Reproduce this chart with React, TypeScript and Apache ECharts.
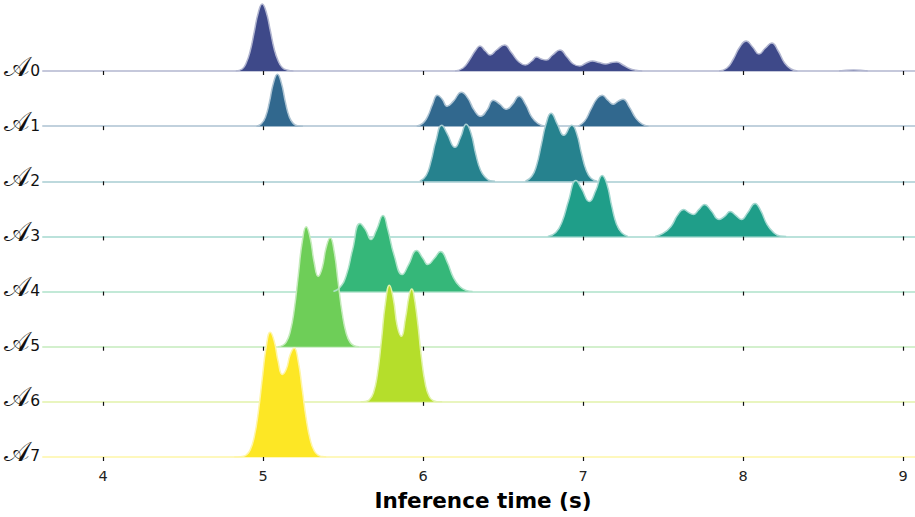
import React, { useEffect, useRef } from 'react';
import * as echarts from 'echarts';

// x range and ticks (inference time, seconds)
const X_MIN = 3.625;
const X_MAX = 9.125;
const TICKS = [4, 5, 6, 7, 8, 9];
const ROW_NAMES = ['0', '1', '2', '3', '4', '5', '6', '7'];
const COLORS = ['#3e4989', '#31688e', '#26828e', '#1f9e89', '#35b779', '#6ece58', '#b5de2b', '#fde725'];

// density estimates (relative units), one list of [time, density] per group of peaks
const A0: number[][][] = [
  [[4.83, 0], [4.87, 0.02], [4.895, 0.08], [4.92, 0.2], [4.945, 0.39], [4.97, 0.58], [4.995, 0.67], [5.02, 0.59], [5.045, 0.41], [5.07, 0.22], [5.095, 0.1], [5.12, 0.035], [5.15, 0.01], [5.19, 0]],
  [[6.2, 0], [6.25, 0.03], [6.29, 0.11], [6.33, 0.21], [6.356, 0.25], [6.39, 0.2], [6.42, 0.16], [6.46, 0.21], [6.51, 0.26], [6.55, 0.19], [6.6, 0.09], [6.64, 0.06], [6.68, 0.1], [6.71, 0.14], [6.74, 0.12], [6.77, 0.11], [6.81, 0.16], [6.856, 0.21], [6.9, 0.14], [6.94, 0.07], [6.98, 0.05], [7.02, 0.08], [7.06, 0.1], [7.1, 0.085], [7.14, 0.07], [7.18, 0.085], [7.21, 0.09], [7.25, 0.06], [7.29, 0.025], [7.33, 0.007], [7.37, 0]],
  [[7.85, 0], [7.9, 0.03], [7.94, 0.12], [7.98, 0.24], [8.02, 0.3], [8.06, 0.24], [8.1, 0.17], [8.14, 0.23], [8.18, 0.28], [8.22, 0.2], [8.26, 0.08], [8.3, 0.02], [8.34, 0]],
  [[8.6, 0], [8.69, 0.01], [8.78, 0]],
];
const A1: number[][][] = [
  [[4.96, 0], [4.99, 0.023], [5.015, 0.09], [5.04, 0.24], [5.065, 0.43], [5.09, 0.52], [5.115, 0.43], [5.14, 0.24], [5.165, 0.09], [5.19, 0.025], [5.22, 0.004], [5.25, 0]],
  [[5.96, 0], [6.0, 0.03], [6.03, 0.1], [6.06, 0.22], [6.09, 0.31], [6.12, 0.27], [6.15, 0.2], [6.19, 0.25], [6.24, 0.34], [6.28, 0.28], [6.32, 0.16], [6.36, 0.1], [6.4, 0.16], [6.44, 0.26], [6.48, 0.22], [6.52, 0.17], [6.56, 0.22], [6.6, 0.3], [6.64, 0.22], [6.68, 0.09], [6.72, 0.025], [6.76, 0]],
  [[6.97, 0], [7.01, 0.05], [7.05, 0.17], [7.09, 0.28], [7.12, 0.31], [7.155, 0.26], [7.19, 0.22], [7.22, 0.25], [7.25, 0.27], [7.29, 0.19], [7.33, 0.08], [7.37, 0.02], [7.41, 0]],
];
const A2: number[][][] = [
  [[5.98, 0], [6.02, 0.06], [6.05, 0.2], [6.08, 0.4], [6.117, 0.56], [6.15, 0.48], [6.2, 0.34], [6.235, 0.44], [6.27, 0.57], [6.3, 0.48], [6.33, 0.27], [6.36, 0.11], [6.39, 0.04], [6.42, 0.005], [6.45, 0]],
  [[6.64, 0], [6.68, 0.05], [6.71, 0.16], [6.74, 0.37], [6.77, 0.58], [6.8, 0.68], [6.84, 0.57], [6.88, 0.46], [6.93, 0.56], [6.96, 0.48], [6.99, 0.28], [7.02, 0.11], [7.05, 0.03], [7.09, 0]],
];
const A3: number[][][] = [
  [[6.78, 0], [6.83, 0.04], [6.87, 0.15], [6.91, 0.36], [6.956, 0.56], [6.99, 0.48], [7.04, 0.35], [7.08, 0.46], [7.12, 0.61], [7.15, 0.52], [7.18, 0.3], [7.21, 0.12], [7.24, 0.04], [7.28, 0]],
  [[7.45, 0], [7.5, 0.03], [7.55, 0.1], [7.59, 0.21], [7.63, 0.27], [7.66, 0.24], [7.69, 0.22], [7.725, 0.27], [7.76, 0.32], [7.8, 0.26], [7.85, 0.17], [7.885, 0.2], [7.92, 0.25], [7.955, 0.21], [7.99, 0.17], [8.03, 0.24], [8.075, 0.33], [8.11, 0.26], [8.15, 0.12], [8.19, 0.04], [8.23, 0.005], [8.27, 0]],
];
const A4: number[][][] = [
  [[5.44, 0], [5.48, 0.04], [5.52, 0.16], [5.56, 0.42], [5.606, 0.68], [5.64, 0.62], [5.675, 0.52], [5.71, 0.62], [5.75, 0.76], [5.78, 0.62], [5.82, 0.36], [5.87, 0.17], [5.91, 0.27], [5.96, 0.41], [6.0, 0.33], [6.03, 0.27], [6.07, 0.33], [6.11, 0.4], [6.15, 0.3], [6.19, 0.14], [6.23, 0.05], [6.27, 0.01], [6.31, 0]],
];
const A5: number[][][] = [
  [[5.095, 0], [5.12, 0.011], [5.145, 0.046], [5.17, 0.149], [5.195, 0.369], [5.22, 0.707], [5.245, 1.045], [5.27, 1.2], [5.295, 1.087], [5.32, 0.842], [5.345, 0.704], [5.37, 0.79], [5.395, 0.994], [5.42, 1.09], [5.445, 0.95], [5.47, 0.64], [5.495, 0.335], [5.52, 0.135], [5.545, 0.042], [5.57, 0.01], [5.6, 0]],
];
const A6: number[][][] = [
  [[5.61, 0], [5.64, 0.004], [5.665, 0.021], [5.69, 0.089], [5.715, 0.275], [5.74, 0.611], [5.765, 0.987], [5.79, 1.167], [5.815, 1.024], [5.84, 0.752], [5.865, 0.655], [5.89, 0.832], [5.915, 1.078], [5.93, 1.128], [5.94, 1.095], [5.965, 0.818], [5.99, 0.446], [6.015, 0.176], [6.04, 0.051], [6.065, 0.011], [6.09, 0.001], [6.12, 0]],
];
const A7: number[][][] = [
  [[4.82, 0], [4.845, 0.001], [4.87, 0.005], [4.895, 0.02], [4.92, 0.071], [4.945, 0.199], [4.97, 0.442], [4.995, 0.78], [5.02, 1.101], [5.045, 1.248], [5.07, 1.159], [5.095, 0.953], [5.12, 0.826], [5.145, 0.877], [5.17, 1.025], [5.195, 1.09], [5.22, 0.959], [5.245, 0.678], [5.27, 0.384], [5.295, 0.173], [5.32, 0.062], [5.345, 0.018], [5.37, 0.004], [5.395, 0]],
];
const RIDGES = [A0, A1, A2, A3, A4, A5, A6, A7];

function hexToRgb(hex: string) {
  const n = parseInt(hex.slice(1), 16);
  return [(n >> 16) & 255, (n >> 8) & 255, n & 255];
}
function withAlpha(hex: string, a: number) {
  const [r, g, b] = hexToRgb(hex);
  return `rgba(${r},${g},${b},${a})`;
}
function lighten(hex: string, w: number) {
  const [r, g, b] = hexToRgb(hex).map((c) => Math.round(c + (255 - c) * w));
  return `rgb(${r},${g},${b})`;
}

export default function App() {
  const ref = useRef<HTMLDivElement>(null);
  useEffect(() => {
    const chart = echarts.init(ref.current!, null, { renderer: 'svg' });
    const LEFT = 43;
    const WIDTH = 880;
    const BASE0 = 71;
    const STEP = 55.14;
    const YMAX = 1.3;
    const PX = 100;
    const grids: any[] = [];
    const xAxes: any[] = [];
    const yAxes: any[] = [];
    const series: any[] = [];
    const last = RIDGES.length - 1;
    RIDGES.forEach((groups, i) => {
      const base = BASE0 + STEP * i;
      const color = COLORS[i];
      grids.push({
        left: LEFT,
        width: WIDTH,
        top: base - YMAX * PX,
        height: YMAX * PX,
        containLabel: false,
        outerBoundsMode: 'none',
      });
      xAxes.push({
        type: 'value',
        gridIndex: i,
        min: X_MIN,
        max: X_MAX,
        axisLine: { show: true, lineStyle: { color: withAlpha(color, 0.3), width: 2 } },
        axisTick: { show: true, customValues: TICKS, length: 4, lineStyle: { color: '#111', width: 1.2 } },
        splitLine: { show: false },
        axisLabel: {
          show: i === last,
          customValues: TICKS,
          fontSize: 14.5,
          fontFamily: 'DejaVu Sans',
          color: '#222',
          margin: 12,
        },
        name: i === last ? 'Inference time (s)' : '',
        nameLocation: 'middle',
        nameGap: 33,
        nameTextStyle: { fontSize: 21.5, fontWeight: 'bold', fontFamily: 'DejaVu Sans', color: '#000' },
      });
      yAxes.push({
        type: 'value',
        gridIndex: i,
        min: 0,
        max: YMAX,
        axisLine: { show: false },
        axisTick: { show: false },
        splitLine: { show: false },
        axisLabel: {
          customValues: [0],
          margin: 3,
          formatter: () => `{a|\u{1D49C}}{s|${ROW_NAMES[i]}}`,
          padding: [0, 0, 10, 0],
          rich: {
            a: { fontSize: 27, fontFamily: 'DejaVu Serif', color: '#111' },
            s: { fontSize: 15.5, fontFamily: 'DejaVu Sans', color: '#111', verticalAlign: 'bottom', padding: [0, 0, 1, 0] },
          },
        },
      });
      groups.forEach((g) => {
        series.push({
          type: 'line',
          xAxisIndex: i,
          yAxisIndex: i,
          data: g,
          smooth: true,
          showSymbol: false,
          symbol: 'none',
          lineStyle: { color: lighten(color, 0.6), width: 1.5 },
          areaStyle: { color, opacity: 1 },
          silent: true,
        });
      });
    });
    chart.setOption({
      animation: false,
      grid: grids,
      xAxis: xAxes,
      yAxis: yAxes,
      series,
    });
    return () => chart.dispose();
  }, []);
  return <div ref={ref} style={{ position: 'fixed', left: 0, top: 0, width: 915, height: 517, background: '#fff' }} />;
}
